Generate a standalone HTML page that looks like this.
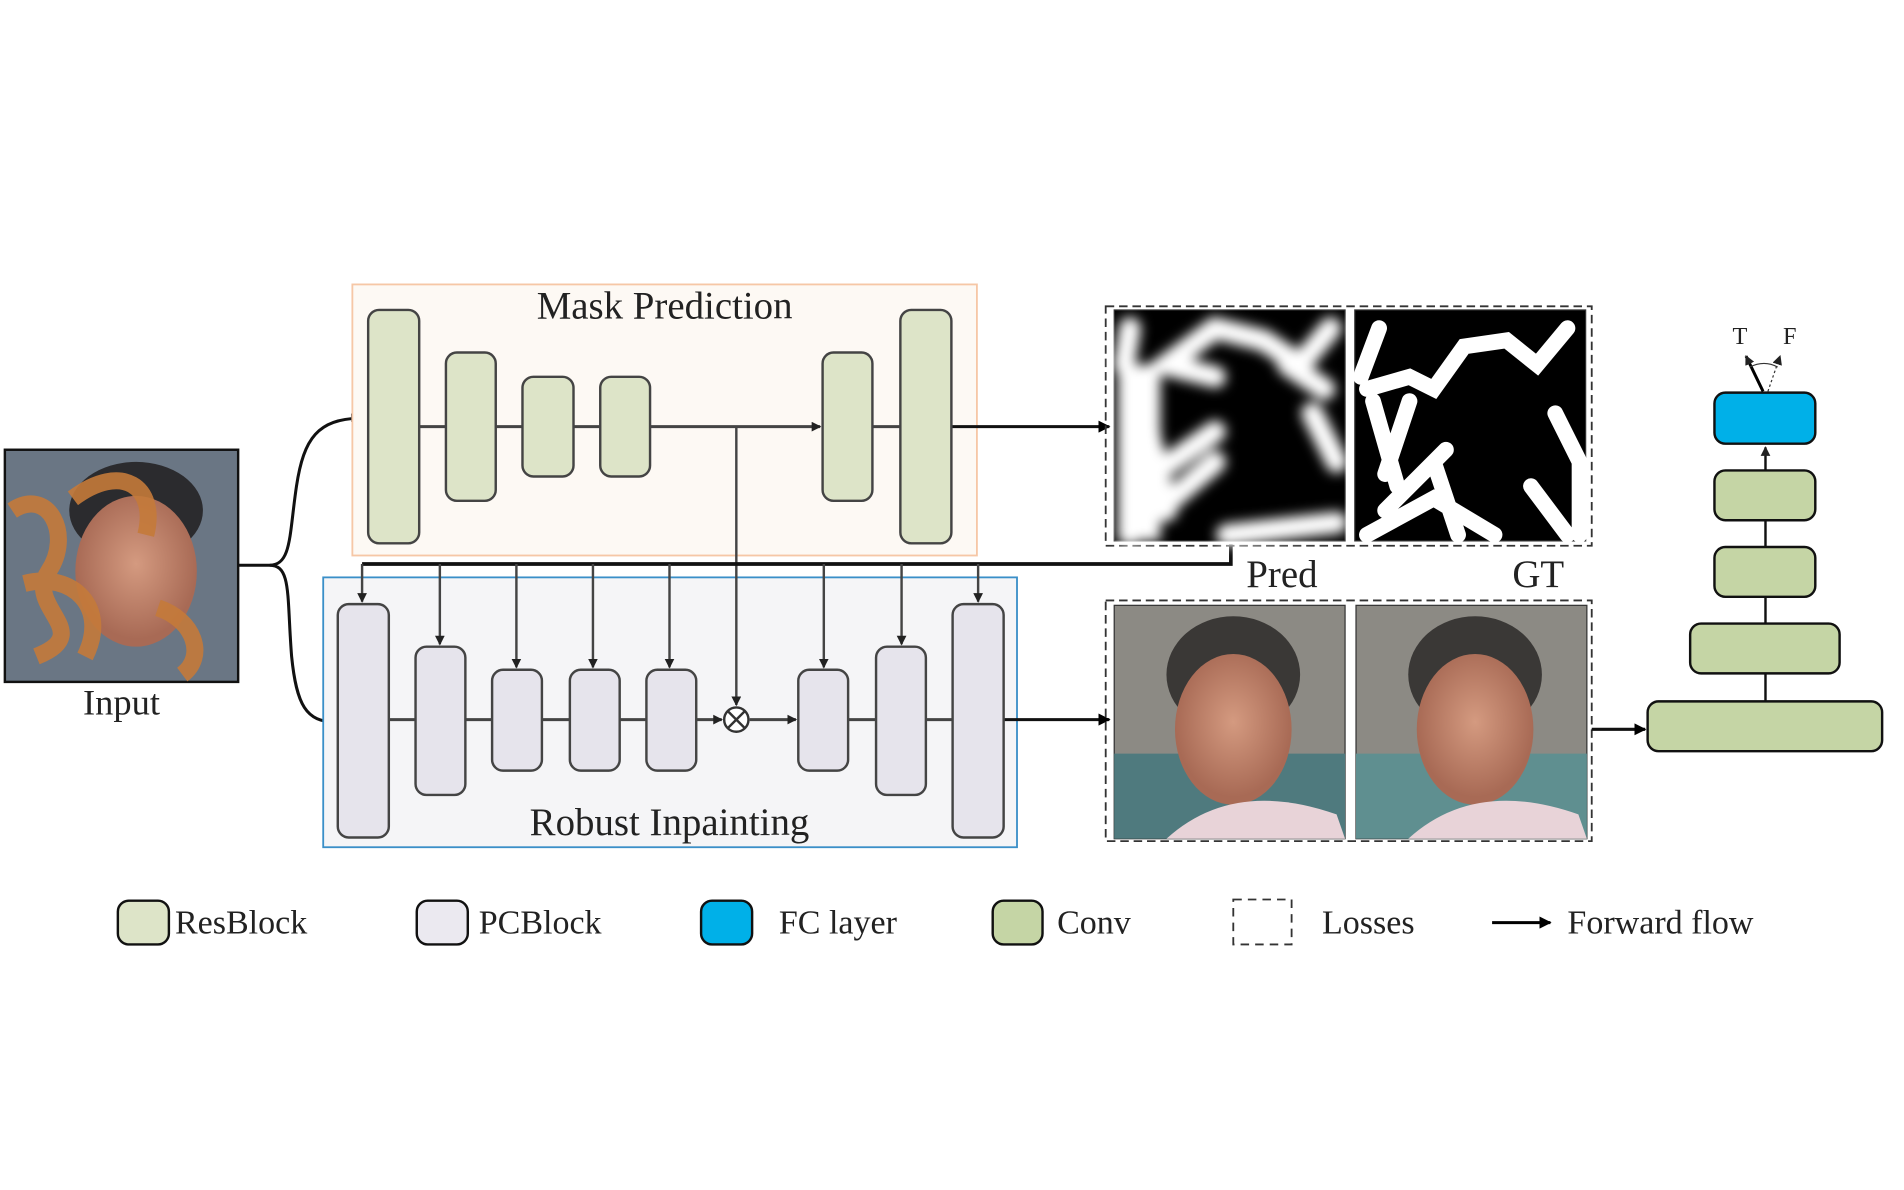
<!DOCTYPE html>
<html><head><meta charset="utf-8"><style>
html,body{margin:0;padding:0;background:#fff;}
svg{display:block;}
text{font-family:"Liberation Serif",serif;fill:#222;}
</style></head><body>
<svg width="1904" height="1190" viewBox="0 0 1567 979" preserveAspectRatio="none" xmlns="http://www.w3.org/2000/svg">
<defs>
<marker id="a" markerWidth="8" markerHeight="8" refX="7" refY="4" orient="auto" markerUnits="userSpaceOnUse"><path d="M0,0 L8,4 L0,8 z" fill="#222"/></marker>
<marker id="b" markerWidth="10" markerHeight="10" refX="9" refY="5" orient="auto" markerUnits="userSpaceOnUse"><path d="M0,0 L10,5 L0,10 z" fill="#000"/></marker>
<filter id="bl"><feGaussianBlur stdDeviation="5"/></filter>
<radialGradient id="face" cx="50%" cy="45%" r="50%"><stop offset="0" stop-color="#d49a80"/><stop offset="1" stop-color="#a86a55"/></radialGradient>
</defs>

<!-- Input image -->
<rect x="4" y="370" width="192" height="191" fill="#6a7684" stroke="#111" stroke-width="2"/>
<ellipse cx="112" cy="420" rx="55" ry="40" fill="#2b2b2e"/>
<ellipse cx="112" cy="470" rx="50" ry="62" fill="url(#face)"/>
<path d="M10,420 C40,400 60,440 40,470 S80,520 30,540 M60,410 C100,380 130,400 120,440 M20,480 C60,470 90,500 70,540 M130,500 C160,510 170,540 150,555" stroke="#c47a3a" stroke-width="14" fill="none" opacity="0.9"/>
<text x="100" y="588" font-size="30" text-anchor="middle">Input</text>

<!-- input branches -->
<path d="M196,465 L222,465 C240,465 238,440 244,400 C250,360 262,345 296,344" fill="none" stroke="#111" stroke-width="2.5" marker-end="url(#a)"/>
<path d="M222,465 C240,465 236,490 240,540 C244,580 252,594 276,594" fill="none" stroke="#111" stroke-width="2.5" marker-end="url(#a)"/>

<!-- Mask Prediction -->
<rect x="290" y="234" width="514" height="223" fill="#fdf9f4" stroke="#f6c7a6" stroke-width="1.5"/>
<text x="547" y="262" font-size="32" text-anchor="middle" fill="#333">Mask Prediction</text>
<line x1="345" y1="351" x2="675" y2="351" stroke="#444" stroke-width="2.5" marker-end="url(#a)"/>
<line x1="718" y1="351" x2="741" y2="351" stroke="#444" stroke-width="2.5"/>
<line x1="783" y1="351" x2="913" y2="351" stroke="#111" stroke-width="2.5" marker-end="url(#b)"/>
<g fill="#dde4c8" stroke="#444" stroke-width="2">
<rect x="303" y="255" width="42" height="192" rx="9"/>
<rect x="367" y="290" width="41" height="122" rx="9"/>
<rect x="430" y="310" width="42" height="82" rx="9"/>
<rect x="494" y="310" width="41" height="82" rx="9"/>
<rect x="677" y="290" width="41" height="122" rx="9"/>
<rect x="741" y="255" width="42" height="192" rx="9"/>
</g>

<!-- Robust Inpainting -->
<rect x="266" y="475" width="571" height="222" fill="#f5f5f7" stroke="#3a8fc8" stroke-width="1.5"/>
<line x1="573" y1="592" x2="594" y2="592" stroke="#444" stroke-width="2.5" marker-end="url(#a)"/>
<line x1="617" y1="592" x2="655" y2="592" stroke="#444" stroke-width="2.5" marker-end="url(#a)"/>
<line x1="320" y1="592" x2="532" y2="592" stroke="#444" stroke-width="2.5"/>
<line x1="698" y1="592" x2="784" y2="592" stroke="#444" stroke-width="2.5"/>
<line x1="826" y1="592" x2="913" y2="592" stroke="#111" stroke-width="2.5" marker-end="url(#b)"/>
<g fill="#e6e4ec" stroke="#444" stroke-width="2">
<rect x="278" y="497" width="42" height="192" rx="9"/>
<rect x="342" y="532" width="41" height="122" rx="9"/>
<rect x="405" y="551" width="41" height="83" rx="9"/>
<rect x="469" y="551" width="41" height="83" rx="9"/>
<rect x="532" y="551" width="41" height="83" rx="9"/>
<rect x="657" y="551" width="41" height="83" rx="9"/>
<rect x="721" y="532" width="41" height="122" rx="9"/>
<rect x="784" y="497" width="42" height="192" rx="9"/>
</g>
<text x="551" y="687" font-size="32" text-anchor="middle" fill="#333">Robust Inpainting</text>
<line x1="606" y1="351" x2="606" y2="580" stroke="#444" stroke-width="2" marker-end="url(#a)"/>
<circle cx="606" cy="592" r="10" fill="#fff" stroke="#333" stroke-width="2"/>
<path d="M599,585 L613,599 M613,585 L599,599" stroke="#333" stroke-width="2"/>

<!-- mask feedback -->
<path d="M1013,448 L1013,464 L298,464" fill="none" stroke="#111" stroke-width="3"/>
<g stroke="#444" stroke-width="2" marker-end="url(#a)">
<line x1="298" y1="464" x2="298" y2="495"/>
<line x1="362" y1="464" x2="362" y2="530"/>
<line x1="425" y1="464" x2="425" y2="549"/>
<line x1="488" y1="464" x2="488" y2="549"/>
<line x1="551" y1="464" x2="551" y2="549"/>
<line x1="678" y1="464" x2="678" y2="549"/>
<line x1="742" y1="464" x2="742" y2="530"/>
<line x1="805" y1="464" x2="805" y2="495"/>
</g>

<!-- Masks -->
<rect x="910" y="252" width="400" height="197" fill="none" stroke="#333" stroke-width="1.5" stroke-dasharray="7,4"/>
<rect x="917" y="255" width="190" height="190" fill="#000" stroke="#333"/>
<g filter="url(#bl)" stroke="#fff" stroke-width="18" fill="none" stroke-linecap="round">
<path d="M930,270 L925,300 M1000,310 L960,300 L1000,270 L1040,280 L1070,300 L1095,270 M940,330 L960,420 M930,440 L1000,380 M1060,300 L1090,320 M1080,340 L1100,380 M1010,440 L1100,430 M950,390 L1000,355"/>
<rect x="920" y="300" width="35" height="145" fill="#fff" stroke="none"/>
</g>
<rect x="1115" y="255" width="190" height="190" fill="#000" stroke="#333"/>
<g stroke="#fff" stroke-width="13" fill="none" stroke-linecap="round">
<path d="M1135,270 L1120,310 M1125,320 L1160,310 L1180,320 L1205,285 L1240,280 L1265,300 L1290,270 M1130,330 L1150,400 M1160,330 L1140,390 M1140,420 L1190,370 M1180,380 L1200,440 M1125,440 L1180,410 L1230,440 M1280,340 L1300,380 M1260,400 L1290,440 M1300,380 L1300,440"/>
</g>
<text x="1055" y="483" font-size="32" text-anchor="middle">Pred</text>
<text x="1266" y="483" font-size="32" text-anchor="middle">GT</text>

<!-- Faces -->
<rect x="910" y="494" width="400" height="198" fill="none" stroke="#333" stroke-width="1.5" stroke-dasharray="7,4"/>
<g>
<rect x="917" y="498" width="190" height="192" fill="#8c8a84" stroke="#333"/>
<rect x="917" y="620" width="190" height="70" fill="#4f7a7e"/>
<ellipse cx="1015" cy="555" rx="55" ry="48" fill="#3a3836"/>
<ellipse cx="1015" cy="600" rx="48" ry="62" fill="url(#face)"/>
<path d="M960,690 Q1015,640 1100,670 L1107,690 z" fill="#e8d3d8"/>
<rect x="1116" y="498" width="190" height="192" fill="#8c8a84" stroke="#333"/>
<rect x="1116" y="620" width="190" height="70" fill="#5f8f90"/>
<ellipse cx="1214" cy="555" rx="55" ry="48" fill="#3a3836"/>
<ellipse cx="1214" cy="600" rx="48" ry="62" fill="url(#face)"/>
<path d="M1159,690 Q1214,640 1299,670 L1306,690 z" fill="#e8d3d8"/>
</g>
<line x1="1310" y1="600" x2="1354" y2="600" stroke="#111" stroke-width="2.5" marker-end="url(#b)"/>

<!-- Discriminator -->
<line x1="1453" y1="577" x2="1453" y2="368" stroke="#111" stroke-width="2" marker-end="url(#a)"/>
<g fill="#c5d5a5" stroke="#111" stroke-width="2">
<rect x="1356" y="577" width="193" height="41" rx="9"/>
<rect x="1391" y="513" width="123" height="41" rx="9"/>
<rect x="1411" y="450" width="83" height="41" rx="9"/>
<rect x="1411" y="387" width="83" height="41" rx="9"/>
</g>
<rect x="1411" y="323" width="83" height="42" rx="9" fill="#00b0e8" stroke="#111" stroke-width="2"/>
<line x1="1451" y1="322" x2="1437" y2="293" stroke="#000" stroke-width="2.5" marker-end="url(#a)"/>
<line x1="1455" y1="322" x2="1465" y2="293" stroke="#333" stroke-width="1" stroke-dasharray="2,2" marker-end="url(#a)"/>
<path d="M1440,302 Q1452,296 1463,302" fill="none" stroke="#333" stroke-width="1"/>
<text x="1432" y="283" font-size="20" text-anchor="middle">T</text>
<text x="1473" y="283" font-size="20" text-anchor="middle">F</text>

<!-- Legend -->
<g stroke="#111" stroke-width="2">
<rect x="97" y="741" width="42" height="36" rx="9" fill="#dde4c8"/>
<rect x="343" y="741" width="42" height="36" rx="9" fill="#ebe9f0"/>
<rect x="577" y="741" width="42" height="36" rx="9" fill="#00b0e8"/>
<rect x="817" y="741" width="41" height="36" rx="9" fill="#c5d5a5"/>
</g>
<rect x="1015" y="740" width="48" height="37" fill="none" stroke="#333" stroke-width="1.5" stroke-dasharray="7,5"/>
<line x1="1228" y1="759" x2="1276" y2="759" stroke="#000" stroke-width="2.5" marker-end="url(#b)"/>
<g font-size="28">
<text x="144" y="768">ResBlock</text>
<text x="394" y="768">PCBlock</text>
<text x="641" y="768">FC layer</text>
<text x="870" y="768">Conv</text>
<text x="1088" y="768">Losses</text>
<text x="1290" y="768">Forward flow</text>
</g>
</svg>
</body></html>
